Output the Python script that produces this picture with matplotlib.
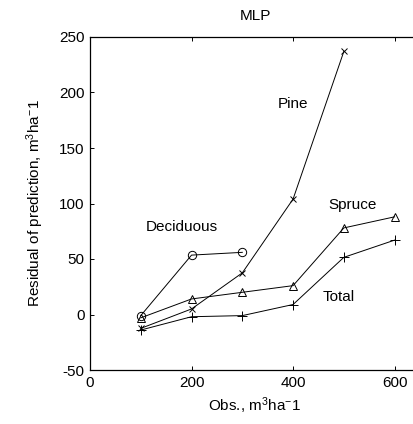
import matplotlib
matplotlib.use("Agg")
import matplotlib.pyplot as plt

plt.rcParams['font.family'] = ['Liberation Sans', 'DejaVu Sans']
plt.rcParams['mathtext.fontset'] = 'custom'
plt.rcParams['mathtext.rm'] = 'Liberation Sans'
plt.rcParams['mathtext.it'] = 'Liberation Sans'
plt.rcParams['mathtext.default'] = 'regular'
plt.rcParams['axes.unicode_minus'] = False

x_dec = [100, 200, 300]
y_dec = [-1, 53.5, 56]
x_pine = [100, 200, 300, 400, 500]
y_pine = [-12.5, 5, 37.5, 104, 237]
x_spr = [100, 200, 300, 400, 500, 600]
y_spr = [-3, 14, 20, 26, 78, 88]
x_tot = [100, 200, 300, 400, 500, 600]
y_tot = [-14, -2, -1, 9, 51.5, 67]

labels = ["Deciduous", "Pine", "Spruce", "Total"]
label_pos = [(110, 79), (370, 190), (469, 99), (459, 16)]

W, H = 414, 424
fig = plt.figure(figsize=(W/100, H/100), dpi=100)
ax = fig.add_axes([90/W, 54/H, 330/W, 333/H])

lw = 0.7
ms = 6
ax.plot(x_dec, y_dec, '-o', color='k', lw=lw, ms=ms, mfc='none', mew=0.7)
ax.plot(x_pine, y_pine, '-x', color='k', lw=lw, ms=5, mew=0.7)
ax.plot(x_spr, y_spr, '-^', color='k', lw=lw, ms=ms, mfc='none', mew=0.7)
ax.plot(x_tot, y_tot, '-+', color='k', lw=lw, ms=7, mew=0.7)

fs = 11
for t, (lx, ly) in zip(labels, label_pos):
    ax.text(lx, ly, t, fontsize=fs, ha='left', va='center')

ax.set_xlim(0, 650)
ax.set_ylim(-50, 250)
ax.set_xticks([0, 200, 400, 600])
ax.set_yticks([-50, 0, 50, 100, 150, 200, 250])
ax.tick_params(direction='in', length=3, labelsize=fs, top=True, right=True, width=0.7, pad=4)
for s in ax.spines.values():
    s.set_linewidth(0.9)
ax.set_title("MLP", fontsize=fs, pad=12)
ax.set_xlabel("Obs., m$^3$ha$^{-}$1", fontsize=fs, labelpad=4)
ax.set_ylabel("Residual of prediction, m$^3$ha$^{-}$1", fontsize=fs, labelpad=9)

fig.savefig("out.png", dpi=100)
